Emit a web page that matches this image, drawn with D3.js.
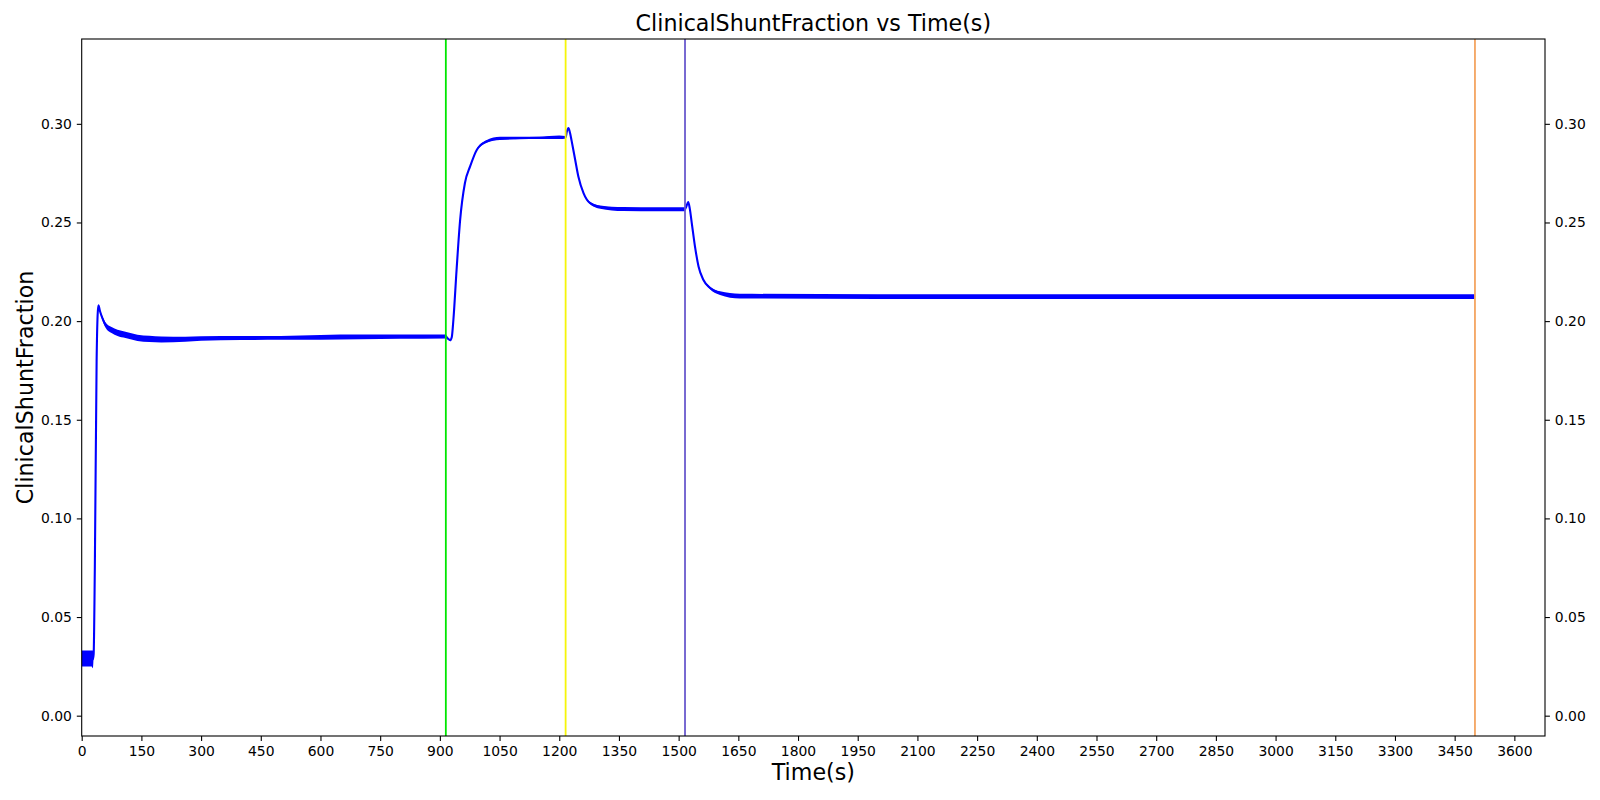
<!DOCTYPE html>
<html>
<head>
<meta charset="utf-8">
<script src="https://cdn.jsdelivr.net/npm/d3@7"></script>
<style>
  html, body { margin: 0; padding: 0; background: #fff; }
  svg { display: block; font-family: "DejaVu Sans", sans-serif; }
</style>
</head>
<body>
<svg id="chart" width="1600" height="800"></svg>
<script>
// ---- data ----
const titleText = "ClinicalShuntFraction vs Time(s)";
const xLabel = "Time(s)";
const yLabel = "ClinicalShuntFraction";

// time (s), centre value, and half-width of the fast oscillation band
const timeS = [0, 25, 28, 30, 33, 37.5, 40, 42, 46, 52, 60, 75, 90, 110, 140, 170, 200, 260, 300, 400, 500, 600, 700, 800, 915,
  920, 926, 930, 934, 942, 951, 963, 976, 993, 1018, 1051, 1100, 1150, 1200, 1216,
  1219, 1223, 1227, 1231, 1240, 1248, 1261, 1277, 1303, 1361, 1450, 1516,
  1520, 1524, 1528, 1533, 1541, 1550, 1562, 1579, 1604, 1654, 2000, 2500, 3000, 3501];
const shuntValue = [0.029, 0.029, 0.0285, 0.031, 0.075, 0.180, 0.203, 0.2080, 0.2050, 0.2015, 0.1980, 0.1955, 0.1940, 0.1930, 0.1915, 0.1910, 0.1907, 0.1908, 0.1912, 0.1914, 0.1915, 0.1918, 0.1920, 0.1921, 0.1922,
  0.1912, 0.1903, 0.1920, 0.2007, 0.2260, 0.2514, 0.2700, 0.2784, 0.2869, 0.2911, 0.2926, 0.2928, 0.2929, 0.2932, 0.2932,
  0.2960, 0.2979, 0.2955, 0.2915, 0.2818, 0.2733, 0.2649, 0.2599, 0.2578, 0.2568, 0.2567, 0.2567,
  0.2585, 0.2603, 0.2570, 0.2497, 0.2379, 0.2277, 0.2210, 0.2168, 0.2142, 0.2127, 0.2124, 0.2124, 0.2124, 0.2124];
const bandHalf = [0.0041, 0.0041, 0.0045, 0, 0, 0, 0, 0, 0.0005, 0.0010, 0.0013, 0.0015, 0.0016, 0.0016, 0.0016, 0.0016, 0.0015, 0.0013, 0.0011, 0.0010, 0.0010, 0.0012, 0.0012, 0.0011, 0.0010,
  0.0005, 0.0003, 0, 0, 0, 0, 0, 0.0002, 0.0005, 0.0007, 0.0008, 0.0006, 0.0006, 0.0009, 0.0006,
  0, 0, 0, 0, 0, 0, 0.0003, 0.0005, 0.0008, 0.0010, 0.0010, 0.0010,
  0, 0, 0, 0, 0, 0, 0.0003, 0.0006, 0.0009, 0.0012, 0.0012, 0.0012, 0.0012, 0.0012];

// event markers
const eventTimes = [915, 1216, 1516, 3501];
const eventColors = ["#00e600", "#f5f50a", "#6a5acd", "#f4a460"];

// ticks
const xTicks = d3.range(0, 3601, 150);
const yTicks = [0, 0.05, 0.10, 0.15, 0.20, 0.25, 0.30];
const xDomain = [0, 3677];
const yDomain = [-0.0103, 0.343];

// ---- layout ----
const svg = d3.select("#chart");
const L = 81.7, R = 1545, T = 39, B = 736;
const x = d3.scaleLinear().domain(xDomain).range([L, R]);
const y = d3.scaleLinear().domain(yDomain).range([B, T]);

const pts = timeS.map((t, i) => ({t, v: shuntValue[i], h: bandHalf[i]}));

svg.append("defs").append("clipPath").attr("id", "clip")
  .append("rect").attr("x", L).attr("y", T).attr("width", R - L).attr("height", B - T);

const plot = svg.append("g").attr("clip-path", "url(#clip)");

// oscillation band
plot.append("path")
  .datum(pts)
  .attr("fill", "#0000ff")
  .attr("d", d3.area().curve(d3.curveMonotoneX).x(d => x(d.t)).y0(d => y(d.v - d.h)).y1(d => y(d.v + d.h)));

// main line
plot.append("path")
  .datum(pts)
  .attr("fill", "none")
  .attr("stroke", "#0000ff")
  .attr("stroke-width", 2.1)
  .attr("stroke-linejoin", "round")
  .attr("d", d3.line().curve(d3.curveMonotoneX).x(d => x(d.t)).y(d => y(d.v)));

// event lines
plot.selectAll("line.evt").data(eventTimes).enter().append("line")
  .attr("class", "evt")
  .attr("x1", d => x(d)).attr("x2", d => x(d))
  .attr("y1", T).attr("y2", B)
  .attr("stroke", (d, i) => eventColors[i])
  .attr("stroke-width", 1.8);

// axes
const fs = "13.9px";
function styleAxis(g) {
  g.selectAll("text").attr("font-size", fs).attr("fill", "#000").attr("font-family", "DejaVu Sans");
  g.selectAll(".tick line").attr("stroke", "#000").attr("stroke-width", 1.1);
  g.select(".domain").remove();
}
svg.append("g").attr("transform", `translate(0,${B})`)
  .call(d3.axisBottom(x).tickValues(xTicks).tickFormat(d3.format("d")).tickSize(4.9).tickPadding(4.9))
  .call(styleAxis);
svg.append("g").attr("transform", `translate(${L},0)`)
  .call(d3.axisLeft(y).tickValues(yTicks).tickFormat(d3.format(".2f")).tickSize(4.9).tickPadding(4.9))
  .call(styleAxis);
svg.append("g").attr("transform", `translate(${R},0)`)
  .call(d3.axisRight(y).tickValues(yTicks).tickFormat(d3.format(".2f")).tickSize(4.9).tickPadding(4.9))
  .call(styleAxis);

// frame
svg.append("rect").attr("x", L).attr("y", T).attr("width", R - L).attr("height", B - T)
  .attr("fill", "none").attr("stroke", "#000").attr("stroke-width", 1.1);

// title and labels
svg.append("text").attr("x", (L + R) / 2).attr("y", 31).attr("text-anchor", "middle")
  .attr("font-size", "22.2px").text(titleText);
svg.append("text").attr("x", (L + R) / 2).attr("y", 780).attr("text-anchor", "middle")
  .attr("font-size", "22.2px").text(xLabel);
svg.append("text").attr("transform", `translate(32.5,${(T + B) / 2}) rotate(-90)`).attr("text-anchor", "middle")
  .attr("font-size", "22.2px").text(yLabel);
</script>
</body>
</html>
